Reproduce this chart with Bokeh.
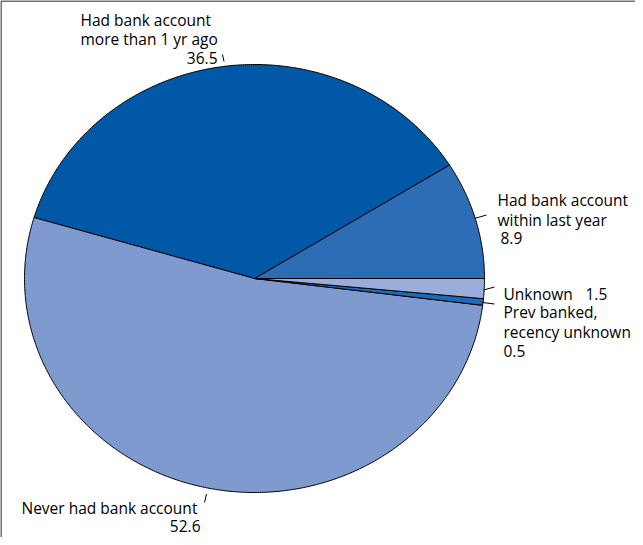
import numpy as np
from bokeh.plotting import figure
from bokeh.models import Range1d, ColumnDataSource
from bokeh.core.properties import value
from bokeh.embed import file_html
from bokeh.resources import INLINE

# ---- data (counter-clockwise from 3 o'clock) ----
categories = ["Had bank account within last year", "Had bank account more than 1 yr ago",
              "Never had bank account", "Prev banked, recency unknown", "Unknown"]
percent = [8.9, 36.5, 52.6, 0.5, 1.5]
colors = ["#2D6DB5", "#0058A7", "#7F9ACE", "#1C6ABC", "#9BAEDB"]

# ---- layout (page pixel coordinates; data y = 545 - page y) ----
W, H = 635, 537
def py(v):
    return 545 - v

cx, cy = 262, py(286)
rx, ry = 230, 214

p = figure(width=W, height=H, output_backend="svg", toolbar_location=None,
           x_range=Range1d(8, 643), y_range=Range1d(0, 537),
           min_border=0, outline_line_color=None)
p.axis.visible = False
p.grid.visible = False
p.background_fill_color = "white"
p.border_fill_color = "white"

vals = np.array(percent, dtype=float)
ends = np.cumsum(vals) / vals.sum() * 2 * np.pi
starts = np.concatenate([[0.0], ends[:-1]])
xs, ys = [], []
for a0, a1 in zip(starts, ends):
    t = np.linspace(a0, a1, max(4, int((a1 - a0) * 120)))
    xs.append(np.concatenate([[cx], cx + rx * np.cos(t), [cx]]))
    ys.append(np.concatenate([[cy], cy + ry * np.sin(t), [cy]]))
src = ColumnDataSource(dict(xs=xs, ys=ys, color=colors, cat=categories))
p.patches("xs", "ys", source=src, fill_color="color", line_color="black", line_width=1)

# frame (left and top lines)
p.line([8.5, 8.5], [0, py(8.5)], line_color="#444444", line_width=1.5)
p.line([8.5, 643], [py(8.5), py(8.5)], line_color="#444444", line_width=1.5)

# leader ticks
ticks = [((230, 62), (231.5, 69)),
         ((482, 226), (494, 222.5)),
         ((491, 297.5), (502, 294.5)),
         ((490, 310), (502, 311.5)),
         ((212, 510), (214, 501.5))]
p.multi_line([[a[0], b[0]] for a, b in ticks], [[py(a[1]), py(b[1])] for a, b in ticks],
             line_color="black", line_width=1)

font = value("Open Sans")
fs = "15.5px"
labels_left = [
    (88, 27, "Had bank account"), (88, 46, "more than 1 yr ago"),
    (505, 207, "Had bank account"), (505, 227, "within last year"), (508, 245, f"{percent[0]}"),
    (511, 301, "Unknown"), (593, 301, f"{percent[4]}"),
    (511, 319, "Prev banked,"), (511, 339, "recency unknown"), (511, 358, f"{percent[3]}"),
    (29, 515, "Never had bank account"),
]
p.text([a for a, b, c in labels_left], [py(b) for a, b, c in labels_left],
       text=[c for a, b, c in labels_left], text_font=font, text_font_size=fs,
       text_align="left", text_baseline="alphabetic", text_color="black")
labels_right = [(225, 65, f"{percent[1]}"), (208, 533, f"{percent[2]}")]
p.text([a for a, b, c in labels_right], [py(b) for a, b, c in labels_right],
       text=[c for a, b, c in labels_right], text_font=font, text_font_size=fs,
       text_align="right", text_baseline="alphabetic", text_color="black")

open("out.html", "w").write(file_html(p, INLINE))
